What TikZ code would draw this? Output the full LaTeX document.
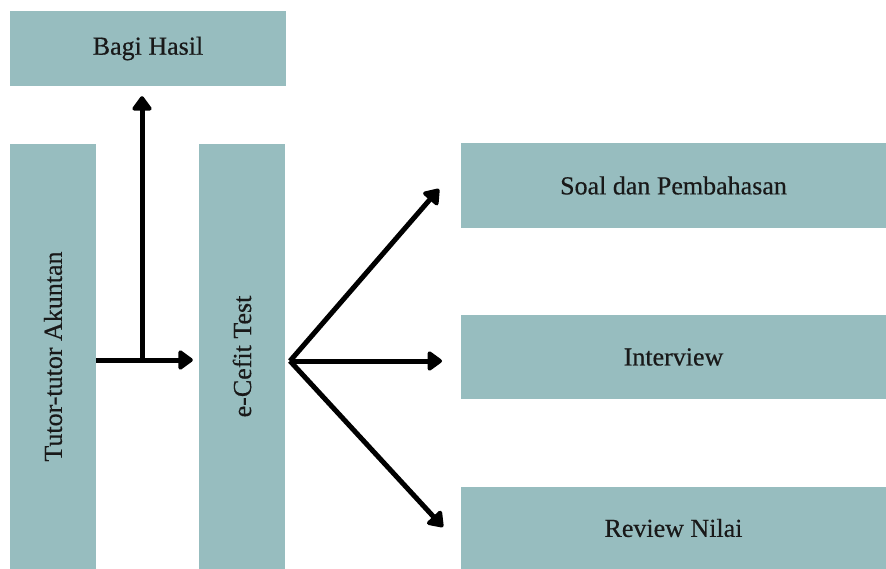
\documentclass[tikz,border=0pt]{standalone}
\usepackage{fontspec}
\setmainfont{Liberation Serif}[FakeBold=0.4]
\usetikzlibrary{arrows.meta}
\definecolor{boxfill}{RGB}{151,189,191}
\begin{document}
\begin{tikzpicture}[x=1pt,y=-1pt,
  box/.style={fill=boxfill,draw=none,inner sep=0pt,font=\fontsize{26}{30}\selectfont,text=black!90},
  conn/.style={line width=5pt,-{Triangle[length=16pt,width=22pt,round]}}]
\useasboundingbox (0,0) rectangle (886,569);
\node[box,minimum width=276pt,minimum height=75pt] (bagi) at (148,48.5) {Bagi Hasil};
\node[box,minimum width=86pt,minimum height=425pt] (tutor) at (53,356.5) {\rotatebox{90}{Tutor-tutor Akuntan}};
\node[box,minimum width=86pt,minimum height=425pt] (ecefit) at (242,356.5) {\rotatebox{90}{e-Cefit Test}};
\node[box,minimum width=425pt,minimum height=85pt] (soal) at (673.5,185.5) {Soal dan Pembahasan};
\node[box,minimum width=425pt,minimum height=84pt] (interview) at (673.5,357) {Interview};
\node[box,minimum width=425pt,minimum height=82pt] (review) at (673.5,528) {Review Nilai};
\coordinate (split) at (142,360);
\coordinate (fan) at (290,361);
\coordinate (soalend) at (439,189);
\coordinate (interend) at (442,361);
\coordinate (reviewend) at (443,527);
\draw[conn] (tutor.east |- split) -- (split -| ecefit.west) [shorten >=6pt];
\draw[conn,shorten >=10pt] (split) -- (split |- bagi.south);
\draw[conn] (fan) -- (soalend);
\draw[conn] (fan) -- (interend);
\draw[conn] (fan) -- (reviewend);
\end{tikzpicture}
\end{document}
